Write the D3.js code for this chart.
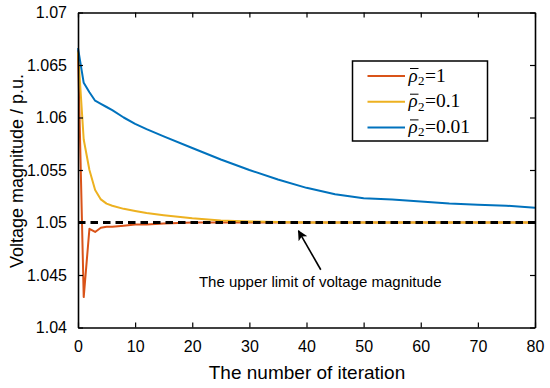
<!DOCTYPE html>
<html>
<head>
<meta charset="utf-8">
<script src="https://cdn.jsdelivr.net/npm/d3@7"></script>
<style>
  body { margin: 0; background: #fff; }
  svg text { font-family: "Liberation Sans", Arial, sans-serif; fill: #000; }
</style>
</head>
<body>
<svg id="chart" width="550" height="388"></svg>
<script>
// iteration numbers shared by all three runs
var iterations = [0,1,2,3,4,5,6,8,10,12,15,20,25,30,35,40,45,50,55,60,65,70,75,80];

var rho1   = [1.0664,1.0429,1.0494,1.0491,1.0495,1.0496,1.0496,1.0497,1.0498,1.0498,1.0499,1.0500,1.0500,1.0500,1.0500,1.0500,1.0500,1.0500,1.0500,1.0500,1.0500,1.0500,1.0500,1.0500];
var rho01  = [1.0663,1.0579,1.0550,1.0531,1.0522,1.0518,1.0516,1.0513,1.0511,1.0509,1.0507,1.0504,1.0502,1.0501,1.05005,1.0500,1.0500,1.0500,1.0500,1.0500,1.0500,1.0500,1.0500,1.0500];
var rho001 = [1.0666,1.0633,1.0624,1.0616,1.0613,1.0610,1.0607,1.0600,1.0594,1.0589,1.0582,1.0571,1.0560,1.0550,1.0541,1.0533,1.0527,1.0523,1.0522,1.0520,1.0518,1.0517,1.0516,1.0514];

var seriesNames = ["1", "0.1", "0.01"];
var limit = 1.05;

var xTicks = [0,10,20,30,40,50,60,70,80];
var yTicks = [1.04,1.045,1.05,1.055,1.06,1.065,1.07];

var colors = ["#D95319", "#EDB120", "#0072BD"];

var margin = {left: 78, top: 12.5, right: 15, bottom: 60.5};
var W = 550 - margin.left - margin.right;
var H = 388 - margin.top - margin.bottom;

var svg = d3.select("#chart");
var g = svg.append("g").attr("transform", "translate(" + margin.left + "," + margin.top + ")");

var x = d3.scaleLinear().domain([0, 80]).range([0, W]);
var y = d3.scaleLinear().domain([1.04, 1.07]).range([H, 0]);

// lines
var line = d3.line()
  .x(function(d){ return x(d[0]); })
  .y(function(d){ return y(d[1]); });

var allSeries = [rho1, rho01, rho001];
allSeries.forEach(function(vals, i){
  g.append("path")
    .datum(iterations.map(function(t, j){ return [t, vals[j]]; }))
    .attr("d", line)
    .attr("fill", "none")
    .attr("stroke", colors[i])
    .attr("stroke-width", 2)
    .attr("stroke-linejoin", "round");
});

// upper limit
g.append("line")
  .attr("x1", x(0)).attr("x2", x(80))
  .attr("y1", y(limit)).attr("y2", y(limit))
  .attr("stroke", "#000")
  .attr("stroke-width", 2.8)
  .attr("stroke-dasharray", "7.5,5");

// axes, ticks inward on every side
function styleAxis(sel){
  sel.select(".domain").attr("stroke", "#000").attr("stroke-width", 1.6);
  sel.selectAll(".tick line").attr("stroke", "#000").attr("stroke-width", 1.2);
  sel.selectAll("text").style("font-size", "16px").attr("fill", "#222");
}

g.append("g").attr("transform", "translate(0," + H + ")")
  .call(d3.axisBottom(x).tickValues(xTicks).tickSizeInner(-5).tickSizeOuter(0).tickPadding(13))
  .call(styleAxis);
g.append("g")
  .call(d3.axisTop(x).tickValues(xTicks).tickSizeInner(-5).tickSizeOuter(0).tickFormat(""))
  .call(styleAxis);
g.append("g")
  .call(d3.axisLeft(y).tickValues(yTicks).tickSizeInner(-5).tickSizeOuter(0).tickPadding(11).tickFormat(d3.format("")))
  .call(styleAxis);
g.append("g").attr("transform", "translate(" + W + ",0)")
  .call(d3.axisRight(y).tickValues(yTicks).tickSizeInner(-5).tickSizeOuter(0).tickFormat(""))
  .call(styleAxis);

// axis titles
svg.append("text")
  .attr("x", 307).attr("y", 379)
  .attr("text-anchor", "middle")
  .style("font-size", "19px")
  .attr("fill", "#222")
  .text("The number of iteration");

svg.append("text")
  .attr("transform", "translate(23,171) rotate(-90)")
  .attr("text-anchor", "middle")
  .style("font-size", "18px")
  .attr("fill", "#222")
  .text("Voltage magnitude / p.u.");

// annotation arrow
svg.append("defs").append("marker")
  .attr("id", "arrow")
  .attr("viewBox", "0 0 10 10")
  .attr("refX", 9).attr("refY", 5)
  .attr("markerWidth", 12).attr("markerHeight", 10)
  .attr("markerUnits", "userSpaceOnUse")
  .attr("orient", "auto")
  .append("path").attr("d", "M0,0 L10,5 L0,10 L2.5,5 Z").attr("fill", "#000");

g.append("line")
  .attr("x1", x(42.5)).attr("y1", y(1.0455))
  .attr("x2", x(38.6)).attr("y2", y(1.0492))
  .attr("stroke", "#000").attr("stroke-width", 1.6)
  .attr("marker-end", "url(#arrow)");

g.append("text")
  .attr("x", x(42.4)).attr("y", y(1.0439))
  .attr("text-anchor", "middle")
  .style("font-size", "15px")
  .text("The upper limit of voltage magnitude");

// legend
var legend = g.append("g").attr("transform", "translate(" + (352.5 - margin.left) + "," + (61 - margin.top) + ")");
legend.append("rect")
  .attr("width", 135).attr("height", 80)
  .attr("fill", "#fff").attr("stroke", "#000").attr("stroke-width", 1.5);

var item = legend.selectAll(".item").data(seriesNames).enter()
  .append("g").attr("class", "item")
  .attr("transform", function(d, i){ return "translate(0," + (15 + i * 25.7) + ")"; });
item.append("line")
  .attr("x1", 15).attr("x2", 52.5)
  .attr("stroke", function(d, i){ return colors[i]; })
  .attr("stroke-width", 2);

var serif = "'Liberation Serif', 'DejaVu Serif', serif";
item.append("text")
  .attr("x", 56).attr("y", 5.5)
  .style("font-family", serif).style("font-style", "italic").style("font-size", "19px")
  .text("\u03C1");
item.append("line")
  .attr("x1", 57.5).attr("x2", 66)
  .attr("y1", -7.5).attr("y2", -7.5)
  .attr("stroke", "#000").attr("stroke-width", 1);
item.append("text")
  .attr("x", 65.5).attr("y", 9)
  .style("font-family", serif).style("font-size", "13px")
  .text("2");
item.append("text")
  .attr("x", 72.5).attr("y", 5.5)
  .style("font-family", serif).style("font-size", "19.5px")
  .text(function(d){ return "=" + d; });
</script>
</body>
</html>
